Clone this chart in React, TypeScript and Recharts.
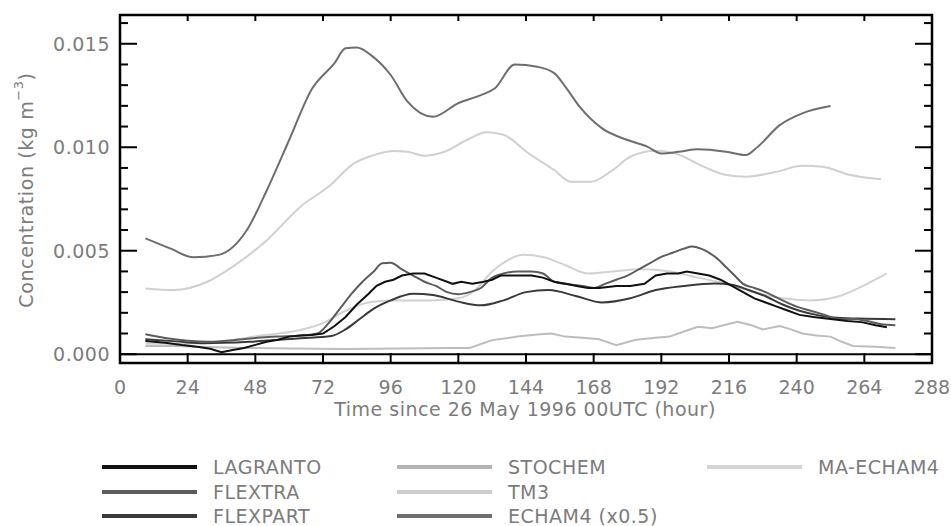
import React from 'react';
import {
  LineChart,
  Line,
  XAxis,
  YAxis,
  ReferenceArea,
  ReferenceLine,
} from 'recharts';

// hours since 26 May 1996 00UTC, concentration in kg m-3
const LAGRANTO_H = [9, 16, 22, 28, 32, 36, 40, 44, 48, 52, 56, 60, 64, 68, 72, 76, 80, 84, 88, 91, 94, 97, 100, 104, 108, 112, 116, 118, 121, 125, 129, 132, 135, 140, 146, 150, 154, 158, 162, 166, 170, 176, 181, 186, 190, 194, 198, 201, 205, 209, 213, 217, 221, 225, 229, 233, 237, 241, 246, 252, 258, 263, 268, 272];
const LAGRANTO_V = [0.00064, 0.00055, 0.00044, 0.00035, 0.00026, 0.0001, 0.0002, 0.0003, 0.00045, 0.0006, 0.0007, 0.00085, 0.0009, 0.00093, 0.001, 0.00135, 0.0018, 0.0024, 0.0029, 0.0033, 0.0035, 0.0036, 0.0038, 0.0039, 0.0039, 0.0037, 0.0035, 0.0034, 0.0035, 0.0034, 0.0035, 0.0036, 0.0038, 0.0038, 0.0038, 0.0037, 0.0035, 0.0034, 0.0033, 0.0032, 0.0032, 0.0033, 0.0033, 0.0034, 0.0038, 0.0039, 0.0039, 0.004, 0.0039, 0.0038, 0.0036, 0.0033, 0.003, 0.0027, 0.0025, 0.0023, 0.0021, 0.0019, 0.0018, 0.0017, 0.0016, 0.00155, 0.0014, 0.0013];

const FLEXTRA_H = [9, 16, 24, 32, 40, 48, 56, 64, 70, 74, 78, 82, 86, 90, 93, 96, 100, 104, 108, 112, 116, 120, 124, 128, 132, 136, 141, 146, 150, 154, 158, 164, 168, 172, 176, 180, 184, 188, 192, 196, 200, 203, 206, 209, 212, 215, 218, 221, 225, 229, 235, 240, 245, 250, 255, 260, 265, 270, 275];
const FLEXTRA_V = [0.00096, 0.00078, 0.00065, 0.0006, 0.00068, 0.00078, 0.00085, 0.0009, 0.001, 0.0015, 0.0022, 0.0029, 0.0035, 0.004, 0.0044, 0.00442, 0.0041, 0.0038, 0.0035, 0.0033, 0.003, 0.0029, 0.003, 0.0032, 0.0037, 0.0039, 0.004, 0.004, 0.0039, 0.0035, 0.0034, 0.0033, 0.0032, 0.0034, 0.0036, 0.0038, 0.0041, 0.0044, 0.0047, 0.0049, 0.0051, 0.0052, 0.0051, 0.0049, 0.0046, 0.0042, 0.0038, 0.0034, 0.0032, 0.003, 0.0026, 0.0023, 0.0021, 0.0019, 0.0017, 0.0017, 0.0016, 0.00145, 0.0014];

const FLEXPART_H = [9, 20, 30, 46, 64, 75, 80, 85, 90, 96, 104, 111, 120, 128, 136, 144, 152, 162, 171, 181, 190, 200, 211, 217, 223, 229, 235, 241, 247, 253, 262, 275];
const FLEXPART_V = [0.00072, 0.00062, 0.00053, 0.0006, 0.00077, 0.00088, 0.0012, 0.0017, 0.0022, 0.0026, 0.00292, 0.00286, 0.00254, 0.00236, 0.0026, 0.003, 0.0031, 0.0028, 0.0025, 0.0027, 0.0031, 0.0033, 0.00342, 0.00336, 0.0031, 0.0028, 0.0024, 0.0021, 0.0019, 0.00177, 0.00172, 0.00169];

const STOCHEM_H = [9, 20, 30, 45, 60, 80, 100, 117, 124, 132, 141, 148, 153, 158, 164, 170, 176, 183, 190, 195, 200, 205, 210, 214, 219, 224, 228, 234, 238, 242, 247, 252, 256, 260, 268, 275];
const STOCHEM_V = [0.0004, 0.0004, 0.00035, 0.0003, 0.00028, 0.00025, 0.00027, 0.0003, 0.0003, 0.00068, 0.00085, 0.00095, 0.001, 0.00085, 0.0008, 0.00072, 0.00044, 0.0007, 0.0008, 0.00085, 0.0011, 0.00133, 0.00125, 0.0014, 0.00157, 0.0014, 0.0012, 0.00136, 0.0012, 0.001, 0.0009, 0.00085, 0.0006, 0.0004, 0.00036, 0.0003];

const TM3_H = [9, 19, 31, 40, 52, 64, 74, 83, 90, 97, 102, 108, 115, 123, 130, 136, 145, 154, 160, 167, 174, 181, 190, 197, 207, 215, 222, 233, 242, 249, 259, 270];
const TM3_V = [0.00318, 0.0031, 0.0035, 0.00423, 0.0055, 0.00713, 0.0081, 0.00922, 0.00962, 0.00982, 0.00978, 0.00959, 0.00978, 0.01035, 0.01072, 0.0106, 0.0097, 0.0089, 0.00833, 0.00833, 0.00882, 0.00954, 0.00983, 0.0097, 0.00906, 0.00866, 0.00858, 0.00882, 0.0091, 0.00906, 0.00866, 0.00845];

const ECHAM4_H = [9, 18, 26, 35, 45, 52, 60, 68, 76, 80, 84, 89, 96, 102, 111, 120, 128, 133, 140, 148, 154, 158, 163, 171, 180, 187, 192, 198, 205, 215, 222, 226, 234, 242, 252];
const ECHAM4_V = [0.0056, 0.0051, 0.00468, 0.0048, 0.006, 0.0079, 0.01035, 0.0128, 0.01405, 0.01478, 0.01482, 0.01445, 0.01349, 0.0122, 0.01147, 0.01213, 0.01252, 0.01285, 0.014, 0.01389, 0.01358, 0.01292, 0.01196, 0.01091, 0.01035, 0.01003, 0.0097, 0.00978, 0.0099, 0.00978, 0.00962, 0.01, 0.01107, 0.01164, 0.01199];

const MAECHAM4_H = [9, 20, 35, 50, 64, 72, 80, 88, 96, 110, 120, 126, 132, 137, 143, 150, 158, 166, 175, 185, 195, 205, 215, 225, 235, 245, 255, 265, 272];
const MAECHAM4_V = [0.0005, 0.0005, 0.0006, 0.0009, 0.00117, 0.0015, 0.0021, 0.0025, 0.0026, 0.0026, 0.0027, 0.0031, 0.004, 0.0045, 0.0048, 0.0047, 0.0043, 0.0039, 0.004, 0.0041, 0.004, 0.0037, 0.0034, 0.003, 0.0027, 0.0026, 0.0028, 0.0034, 0.0039];

const X_TICKS = [0, 24, 48, 72, 96, 120, 144, 168, 192, 216, 240, 264, 288];
const Y_TICKS = [0, 0.001, 0.002, 0.003, 0.004, 0.005, 0.006, 0.007, 0.008, 0.009, 0.01, 0.011, 0.012, 0.013, 0.014, 0.015, 0.016];
const Y_LABELED = [0, 0.005, 0.01, 0.015];

const toPoints = (h: number[], v: number[]) => h.map((x, i) => ({ h: x, v: v[i] }));

const SERIES = [
  { name: 'STOCHEM', data: toPoints(STOCHEM_H, STOCHEM_V), color: '#bdbdbd', type: 'linear' },
  { name: 'MA-ECHAM4', data: toPoints(MAECHAM4_H, MAECHAM4_V), color: '#d2d2d2', type: 'monotone' },
  { name: 'TM3', data: toPoints(TM3_H, TM3_V), color: '#d0d0d0', type: 'monotone' },
  { name: 'ECHAM4 (x0.5)', data: toPoints(ECHAM4_H, ECHAM4_V), color: '#6e6e6e', type: 'monotone' },
  { name: 'FLEXPART', data: toPoints(FLEXPART_H, FLEXPART_V), color: '#3a3a3a', type: 'monotone' },
  { name: 'FLEXTRA', data: toPoints(FLEXTRA_H, FLEXTRA_V), color: '#5c5c5c', type: 'monotone' },
  { name: 'LAGRANTO', data: toPoints(LAGRANTO_H, LAGRANTO_V), color: '#111111', type: 'linear' },
];

const LEGEND = [
  { name: 'LAGRANTO', color: '#111111', x: 102, y: 467 },
  { name: 'FLEXTRA', color: '#5c5c5c', x: 102, y: 492 },
  { name: 'FLEXPART', color: '#3a3a3a', x: 102, y: 516 },
  { name: 'STOCHEM', color: '#b4b4b4', x: 397, y: 467 },
  { name: 'TM3', color: '#cdcdcd', x: 397, y: 492 },
  { name: 'ECHAM4 (x0.5)', color: '#6e6e6e', x: 397, y: 516 },
  { name: 'MA-ECHAM4', color: '#d4d4d4', x: 707, y: 467 },
];

const FONT = "'DejaVu Sans', sans-serif";
const GREY = '#7c7c7c';
const PLOT = { left: 120, right: 932, top: 15, bottom: 363 };

const XTick = ({ x, payload }: any) => {
  const inner = payload.value > 0 && payload.value < 288;
  return (
    <g>
      {inner && <line x1={x} x2={x} y1={PLOT.bottom} y2={PLOT.bottom - 10} stroke="#000" strokeWidth={2} />}
      {inner && <line x1={x} x2={x} y1={PLOT.top} y2={PLOT.top + 6} stroke="#000" strokeWidth={2} />}
      <text x={x} y={394} textAnchor="middle" fontSize={19} fill={GREY} fontFamily={FONT}>
        {payload.value}
      </text>
    </g>
  );
};

const YTick = ({ y, payload }: any) => {
  const major = Y_LABELED.some((t) => Math.abs(t - payload.value) < 1e-9);
  const len = major ? 17 : 8;
  return (
    <g>
      <line x1={PLOT.left} x2={PLOT.left + len} y1={y} y2={y} stroke="#000" strokeWidth={2} />
      <line x1={PLOT.right - len} x2={PLOT.right} y1={y} y2={y} stroke="#000" strokeWidth={2} />
      {major && (
        <text x={110} y={y + 7} textAnchor="end" fontSize={19} fill={GREY} fontFamily={FONT} letterSpacing={0.5}>
          {payload.value.toFixed(3)}
        </text>
      )}
    </g>
  );
};

const XTitle = () => (
  <text x={525} y={416} textAnchor="middle" fontSize={19} fill={GREY} fontFamily={FONT} letterSpacing={0.5}>
    Time since 26 May 1996 00UTC (hour)
  </text>
);

const YTitle = () => (
  <text
    x={26}
    y={190}
    transform="rotate(-90, 26, 190)"
    textAnchor="middle"
    dominantBaseline="central"
    fontSize={19}
    fill={GREY}
    fontFamily={FONT}
    letterSpacing={0.6}
  >
    Concentration (kg m
    <tspan dy={-8} fontSize={13}>−3</tspan>
    <tspan dy={8}>)</tspan>
  </text>
);

export default function App() {
  return (
    <div style={{ position: 'absolute', left: 0, top: 0, width: 951, height: 526, background: '#fff' }}>
      <LineChart width={951} height={526} margin={{ top: 15, right: 19, left: 0, bottom: 103 }}>
        <XAxis
          type="number"
          dataKey="h"
          domain={[0, 288]}
          ticks={X_TICKS}
          allowDataOverflow
          height={60}
          axisLine={false}
          tickLine={false}
          tick={<XTick />}
          interval={0}
          label={XTitle}
        />
        <YAxis
          type="number"
          domain={[-0.000425, 0.01639]}
          ticks={Y_TICKS}
          allowDataOverflow
          width={120}
          axisLine={false}
          tickLine={false}
          tick={<YTick />}
          interval={0}
          label={YTitle}
        />
        <ReferenceArea x1={0} x2={288} y1={-0.000425} y2={0.01639} fill="none" stroke="#000" strokeWidth={2.5} />
        <ReferenceLine y={0} stroke="#000" strokeWidth={2} />
        {SERIES.map((s) => (
          <Line
            key={s.name}
            data={s.data}
            dataKey="v"
            type={s.type as any}
            stroke={s.color}
            strokeWidth={2}
            dot={false}
            isAnimationActive={false}
          />
        ))}
      </LineChart>
      {LEGEND.map((l) => (
        <div key={l.name} style={{ position: 'absolute', left: l.x, top: l.y - 12, height: 24, display: 'flex', alignItems: 'center' }}>
          <div style={{ width: 95, height: 4, background: l.color }} />
          <span style={{ marginLeft: 16, fontFamily: FONT, fontSize: 19, color: GREY, letterSpacing: 0.5, whiteSpace: 'nowrap' }}>
            {l.name}
          </span>
        </div>
      ))}
    </div>
  );
}
